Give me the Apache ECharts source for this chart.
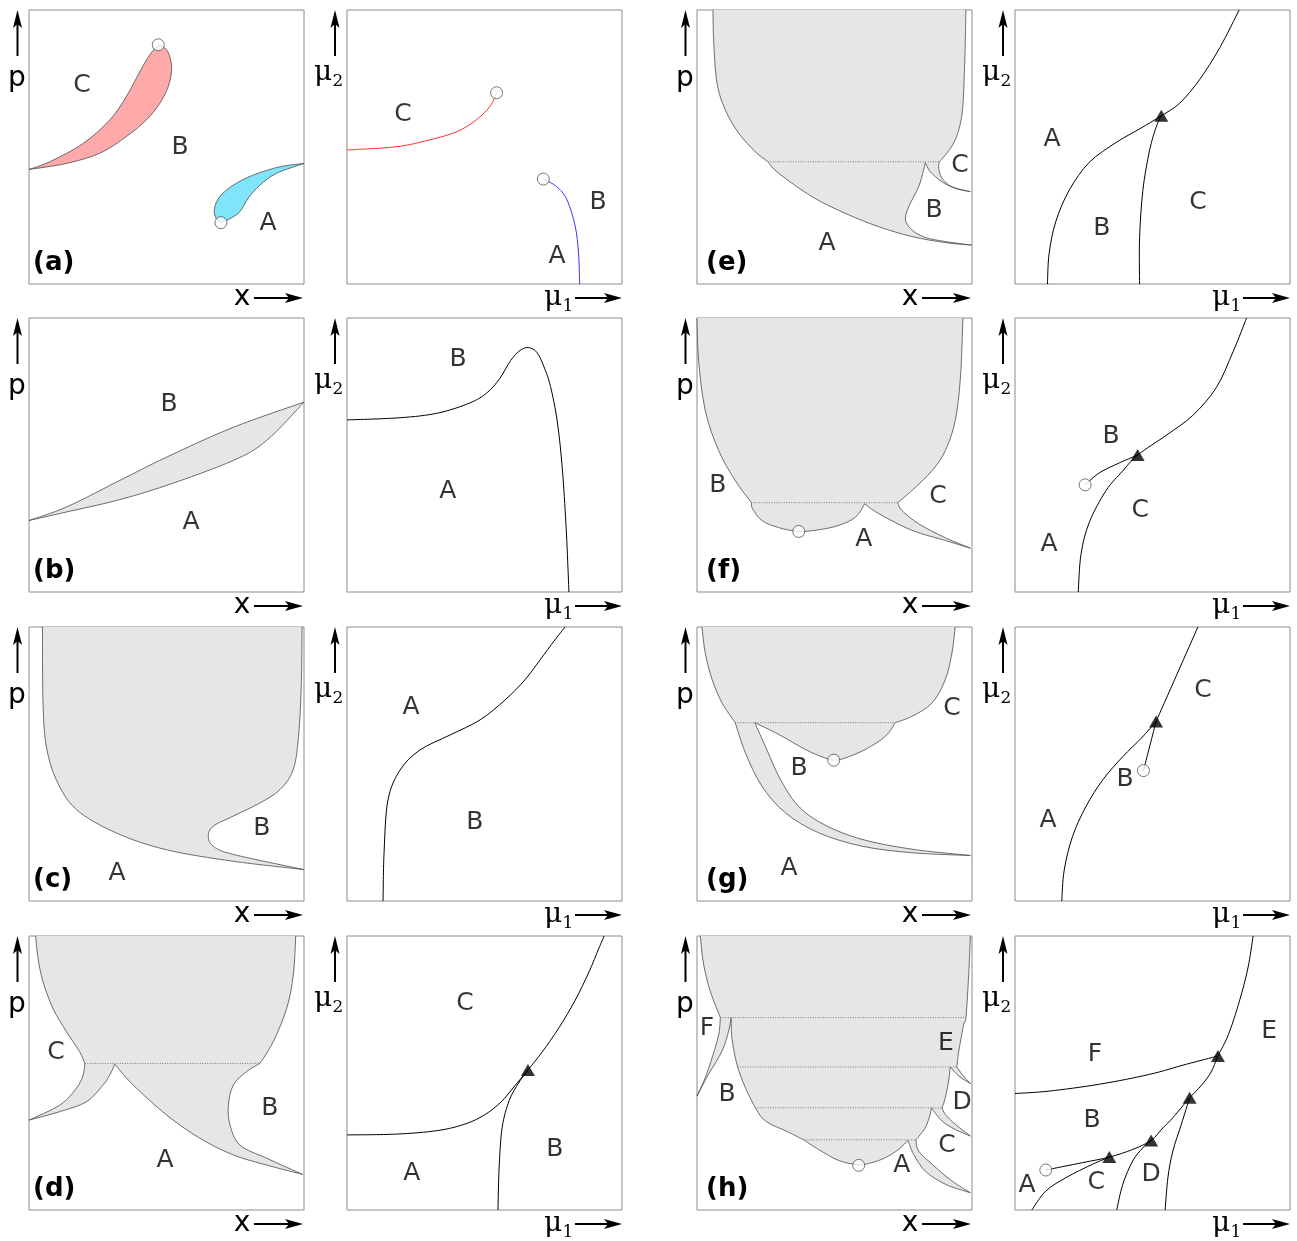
<!DOCTYPE html>
<html>
<head>
<meta charset="utf-8">
<script src="https://cdn.jsdelivr.net/npm/echarts@6/dist/echarts.min.js"></script>
<style>
html, body { margin: 0; padding: 0; background: #fff; }
#chart { width: 1297px; height: 1241px; }
</style>
</head>
<body>
<div id="chart"></div>
<script>
// every panel uses its own 0..100 x 0..100 frame, origin bottom left
// boundaries are lists of segments, a corner sits between two segments

// (a)
var aLeftRed = [
    [[0, 41.8], [7.5, 44.6], [19.7, 51.3], [29.4, 59.9], [35.4, 68.4], [40.3, 77.5], [43.9, 83.6], [47, 87.3]],
    [[47, 87.3], [50, 85.5], [51.5, 81.8], [51.8, 77.5], [50.6, 72], [47.6, 66], [42.7, 59.9], [35.4, 53.8], [25.7, 47.7], [13.6, 44], [0, 41.8]]
];
var aLeftBlue = [
    [[100, 44], [91.3, 42.8], [81.6, 39.8], [74.3, 36.1], [69.4, 31.9], [67.4, 27.5], [68, 24], [69.8, 22.4]],
    [[69.8, 22.4], [73, 23.8], [76.7, 26.4], [79.7, 31.3], [84, 36.1], [90, 40.4], [100, 44]]
];
var aLeftCircles = [[47, 87.3], [69.8, 22.4]];
var aLeftLabels = [['C', 19.3, 72.3], ['B', 54.9, 50], ['A', 86.9, 21.9]];

var aRightRed = [[[0, 48.9], [18, 50.1], [30, 52.6], [40, 55.6], [47, 59.9], [52, 64.8], [54.4, 69.8]]];
var aRightBlue = [[[71.4, 38.3], [76.3, 35.5], [80, 30.7], [83, 21], [84.2, 11.2], [84.6, 0]]];
var aRightCircles = [[54.4, 69.8], [71.4, 38.3]];
var aRightLabels = [['C', 20.4, 61.7], ['B', 91.3, 29.9], ['A', 76.4, 10.2]];

// (b)
var bLeftLens = [
    [[0, 26.1], [13.6, 31], [31.8, 40.1], [50, 49.2], [74.3, 60.1], [100, 69.3]],
    [[100, 69.3], [86.4, 55.3], [74.3, 48], [50, 38.9], [31.8, 33.4], [13.6, 29.2], [0, 26.1]]
];
var bLeftLabels = [['B', 50.9, 68.6], ['A', 58.9, 25.5]];
var bRightCurve = [[[0, 62.8], [19.3, 63.6], [33, 65.3], [44.7, 69], [51, 72.8], [55.6, 78], [59.5, 84.5], [63, 88.2], [66, 89.2], [69, 87.5], [71.5, 82.5], [74, 75], [76.5, 62], [78.3, 45], [79.6, 25], [80.3, 10], [80.7, 0]]];
var bRightLabels = [['B', 40.4, 84.7], ['A', 36.7, 36.5]];

// (c)
var cLeftGray = [
    [[4.9, 100], [5.1, 72.3], [6.3, 56.5], [9.9, 44.3], [17.2, 33.4], [31.8, 24.8], [50, 18.7], [74.3, 14.5], [99.8, 11.5]],
    [[99.8, 11.5], [74.3, 17], [67, 20], [65.2, 23.7], [67, 27.3], [74.3, 31], [84, 35.8], [91.3, 40.7], [96.1, 48], [98, 60.1], [99, 78.4], [99.3, 100]]
];
var cLeftLabels = [['B', 84.7, 26.6], ['A', 32, 9.9]];
var cRightCurve = [[[13.1, 0], [13.5, 18.2], [14.9, 36.9], [19.3, 47.8], [26.5, 55.1], [37.5, 60.6], [48.4, 66.1], [57.5, 73.4], [64.7, 80.7], [70.2, 88], [75.6, 95.3], [79.3, 100]]];
var cRightLabels = [['A', 23.3, 70.8], ['B', 46.5, 28.5]];

// (d)
var dLeftGray = [
    [[2.4, 100], [3.3, 91.8], [5.1, 83.3], [8.7, 73.6], [13.6, 65.1], [18.4, 57.8], [20.3, 53.5]],
    [[20.3, 53.5], [19.7, 49.3], [17.2, 44.4], [11.2, 38.3], [0, 32.8]],
    [[0, 32.8], [11.2, 35.9], [20.9, 39.5], [26.9, 45.6], [29.4, 49.3], [31.2, 53.2]],
    [[31.2, 53.2], [37.9, 45.6], [50, 34.7], [62.1, 26.2], [74.3, 20.1], [86.4, 16.4], [99.5, 13]],
    [[99.5, 13], [86.4, 18.9], [76.7, 23.7], [73.1, 31], [72.5, 38.3], [74.3, 45.6], [79.1, 50.5], [84, 53.5]],
    [[84, 53.5], [88.8, 61.4], [93.7, 73.6], [96.1, 85.8], [97, 100]]
];
var dLeftDotted = [[[20.3, 53.5], [84, 53.5]]];
var dLeftLabels = [['C', 9.8, 57.3], ['B', 87.6, 36.9], ['A', 49.5, 18.2]];
var dRightUpper = [[[0, 27.4], [18, 27.7], [33, 29], [43, 31.4], [50, 34.7], [56, 39.4], [61, 45.3], [65.8, 51.1], [71, 57.7], [77, 66.4], [83, 76.6], [88, 86.9], [91.5, 95.3], [93.5, 100]]];
var dRightLower = [[[54.9, 0], [55.3, 15], [56.4, 30], [59, 40], [62.5, 46.5], [65.8, 51.1]]];
var dRightTriangles = [[65.8, 51.1]];
var dRightLabels = [['C', 42.9, 75.5], ['B', 75.6, 21.9], ['A', 23.6, 13.5]];

// (e)
var eLeftGray = [
    [[5.8, 100], [6.1, 87.8], [7.3, 73.2], [10.3, 63.5], [15.2, 55], [21.2, 48.3], [25.8, 44.6]],
    [[25.8, 44.6], [29.7, 40.4], [41.8, 31.9], [53.9, 25.8], [66.1, 20.9], [78.2, 17.3], [90.3, 15.1], [99.8, 14.2]],
    [[99.8, 14.2], [90.3, 15.5], [83, 17], [78.2, 19.7], [75.8, 23.4], [77, 28.2], [80.6, 35.5], [82.4, 41.6], [83, 44.3]],
    [[83, 44.3], [84.8, 41], [89.1, 37.3], [93.9, 34.9], [99.4, 33.7]],
    [[99.4, 33.7], [92.7, 35.5], [89.1, 38.6], [87.9, 42.2], [88.1, 44.6]],
    [[88.1, 44.6], [90.3, 47.1], [93.9, 52.6], [96.4, 62.3], [97.3, 79.3], [97.8, 100]]
];
var eLeftDotted = [[[25.8, 44.6], [88.1, 44.6]]];
var eLeftLabels = [['C', 95.6, 43.4], ['B', 86.2, 27], ['A', 47.3, 14.6]];
var eRightAB = [[[11.8, 0], [12.4, 11.1], [14.8, 22.7], [19.7, 34.2], [27, 44.4], [36.7, 51.6], [45.3, 56.6], [53.2, 61.4], [59.9, 66], [67.2, 74.7], [74.5, 86.3], [81.5, 100]]];
var eRightBC = [[[45.3, 0], [45.3, 16.9], [46.5, 34.2], [48.9, 48.6], [51.3, 57.2], [53.2, 61.4]]];
var eRightTriangles = [[53.2, 61.4]];
var eRightLabels = [['A', 13.5, 52.6], ['B', 31.6, 20.4], ['C', 66.5, 29.9]];

// (f)
var fLeftGray = [
    [[0, 100], [0.6, 84.4], [3, 66.2], [7.9, 51.6], [13.9, 40.7], [19.8, 32.6]],
    [[19.8, 32.6], [20.2, 30.4], [23.6, 26.1], [29.7, 23.5], [37, 22.1], [44.2, 22.7], [51.5, 24.3], [57.6, 27.3], [61, 32.2]],
    [[61, 32.2], [66.1, 28.6], [78.2, 22.5], [90.3, 18.8], [99.4, 16]],
    [[99.4, 16], [90.3, 19.8], [80.6, 24.9], [74.5, 29.8], [73, 32.6]],
    [[73, 32.6], [78.2, 37.1], [85.5, 44.3], [90.3, 51.6], [93.9, 62.6], [95.8, 78.4], [96.7, 100]]
];
var fLeftDotted = [[[19.8, 32.6], [73, 32.6]]];
var fLeftCircles = [[37, 22.1]];
var fLeftLabels = [['B', 7.6, 38.7], ['C', 87.6, 35], ['A', 60.7, 19]];
var fRightMain = [[[23, 0], [24, 13.8], [27, 25.4], [33.1, 37], [39.2, 44.2], [44.6, 50], [55, 57.2], [64.7, 64.5], [73.2, 74.6], [79.3, 87.7], [84.2, 100]]];
var fRightBranch = [[[25.5, 39.1], [30.7, 43.5], [37.9, 47.1], [44.6, 50]]];
var fRightCircles = [[25.5, 39.1]];
var fRightTriangles = [[44.6, 50]];
var fRightLabels = [['B', 34.9, 56.9], ['C', 45.5, 29.9], ['A', 12.4, 17.5]];

// (g)
var gLeftGray = [
    [[1.8, 100], [3, 90.5], [5.5, 80.8], [9.1, 72.3], [13.9, 65.1]],
    [[13.9, 65.1], [17.6, 54.1], [23.6, 41.9], [32.1, 32.2], [44.2, 24.9], [60, 20], [78.2, 17.6], [99.4, 16.6]],
    [[99.4, 16.6], [78.2, 18.9], [60, 22.5], [46, 28], [36.5, 35], [30, 45], [25.5, 55], [21, 65.1]],
    [[21, 65.1], [29.7, 60.8], [39.4, 55.3], [45.5, 52.6], [49.7, 51.4], [53.9, 52.2], [61.2, 55.3], [68.5, 60.1], [72.1, 65.1]],
    [[72.1, 65.1], [78.2, 67.4], [85.5, 72.3], [90.3, 80.8], [92.7, 90.5], [93.9, 100]]
];
var gLeftDotted = [[[13.9, 65.1], [72.1, 65.1]]];
var gLeftCircles = [[49.7, 51.4]];
var gLeftLabels = [['C', 92.7, 70.4], ['B', 37.1, 48.2], ['A', 33.5, 11.7]];
var gRightMain = [
    [[17, 0], [17.9, 11.3], [20.9, 23.5], [25.8, 34.5], [31.9, 44.2], [39.2, 52.7], [45.9, 59.4], [51.3, 65.5]],
    [[51.3, 65.5], [66.5, 100]]
];
var gRightBranch = [[[46.7, 47.6], [51.3, 65.5]]];
var gRightCircles = [[46.7, 47.6]];
var gRightTriangles = [[51.3, 65.5]];
var gRightLabels = [['C', 68.4, 77], ['B', 40, 44.5], ['A', 12, 29.2]];

// (h)
var hLeftGray = [
    [[1.2, 100], [2.4, 89.7], [4.8, 79.9], [8.5, 70.2]],
    [[8.5, 70.2], [7.9, 64.1], [5.5, 55.6], [3, 48.3], [0, 41.6]],
    [[0, 41.6], [4.2, 49.5], [9.1, 58], [11.5, 65.3], [12.4, 70.2]],
    [[12.4, 70.2], [12.7, 62.9], [14.5, 53.2], [17.6, 44.6], [21.2, 37.3]],
    [[21.2, 37.3], [23.6, 33.7], [27, 31.2], [32, 29], [38.8, 25.6]],
    [[38.8, 25.6], [44.2, 22.1], [51.5, 18.1], [58.8, 16.5], [63.6, 17.3], [68.5, 19.1], [73.3, 22.1], [76.7, 25.4]],
    [[76.7, 25.4], [78.8, 20.3], [83, 14.2], [90.3, 9.4], [99.4, 6.3]],
    [[99.4, 6.3], [92.7, 10.6], [85.5, 16.7], [80.6, 21.5], [79.6, 25.6]],
    [[79.6, 25.6], [83, 30], [84.8, 34.9], [85.2, 37.3]],
    [[85.2, 37.3], [89.1, 32.5], [93.9, 29.4], [99.4, 27]],
    [[99.4, 27], [93.9, 31.3], [90.3, 34.9], [89.1, 37.3]],
    [[89.1, 37.3], [90.3, 41], [91.5, 47.1], [92.1, 52.2]],
    [[92.1, 52.2], [95.2, 48.9], [99.4, 46.1]],
    [[99.4, 46.1], [96.4, 49.5], [94.5, 52.2]],
    [[94.5, 52.2], [95.2, 58], [97, 67.8], [97.8, 70.2], [98.8, 86], [99.4, 100]]
];
var hLeftDotted = [
    [[8.5, 70.2], [97.8, 70.2]],
    [[14.8, 52.2], [94.5, 52.2]],
    [[21.2, 37.3], [89.1, 37.3]],
    [[38.8, 25.6], [79.6, 25.6]]
];
var hLeftCircles = [[58.8, 16.3]];
var hLeftLabels = [['F', 3.6, 66.4], ['E', 90.5, 60.6], ['B', 10.9, 42.3], ['D', 96.4, 39.4], ['C', 90.9, 23.4], ['A', 74.5, 16.1]];
var hRightF = [[[0, 42.5], [12.4, 43.4], [30.7, 45.9], [48.9, 49.5], [62.3, 53.2], [73.8, 56.2]]];
var hRightE = [[[63.5, 41], [67.8, 45.5], [71.3, 50.3], [73.8, 56.2], [77.6, 64], [81.6, 76.2], [84.7, 88.3], [86.6, 100]]];
var hRightChain = [[[11.2, 14.6], [24.6, 17.3], [34.3, 19.3], [42.8, 22.1], [49.5, 25.4], [53.8, 30], [57.4, 33.7], [63.5, 41]]];
var hRightAC = [[[6.1, 0], [11.2, 6.9], [18.5, 11.8], [28.2, 16.7], [34.3, 19.3]]];
var hRightCD = [[[37, 0], [39.2, 9.4], [42.8, 17.9], [46.5, 22.7], [49.5, 25.4]]];
var hRightDE = [[[54.6, 0], [55.6, 11.8], [57.4, 21.5], [60.5, 31.3], [63.5, 41]]];
var hRightCircles = [[11.2, 14.6]];
var hRightTriangles = [[34.3, 19.3], [49.5, 25.4], [63.5, 41], [73.8, 56.2]];
var hRightLabels = [['F', 29.1, 56.6], ['E', 92.4, 65.3], ['B', 28, 32.5], ['A', 4.4, 9.1], ['C', 29.5, 10.2], ['D', 49.5, 12.8]];

var GRAY = '#e6e6e6';
var panels = [
    {tag: '(a)', col: 0, row: 0, regions: [{segs: aLeftRed, fill: '#ffaaaa'}, {segs: aLeftBlue, fill: '#80e5fb'}], circles: aLeftCircles, labels: aLeftLabels},
    {col: 1, row: 0, curves: [{segs: aRightRed, color: '#ff3333'}, {segs: aRightBlue, color: '#3333ff'}], circles: aRightCircles, labels: aRightLabels},
    {tag: '(b)', col: 0, row: 1, regions: [{segs: bLeftLens, fill: GRAY}], labels: bLeftLabels},
    {col: 1, row: 1, curves: [{segs: bRightCurve}], labels: bRightLabels},
    {tag: '(c)', col: 0, row: 2, regions: [{segs: cLeftGray, fill: GRAY}], labels: cLeftLabels},
    {col: 1, row: 2, curves: [{segs: cRightCurve}], labels: cRightLabels},
    {tag: '(d)', col: 0, row: 3, regions: [{segs: dLeftGray, fill: GRAY}], dotted: dLeftDotted, labels: dLeftLabels},
    {col: 1, row: 3, curves: [{segs: dRightUpper}, {segs: dRightLower}], triangles: dRightTriangles, labels: dRightLabels},
    {tag: '(e)', col: 2, row: 0, regions: [{segs: eLeftGray, fill: GRAY}], dotted: eLeftDotted, labels: eLeftLabels},
    {col: 3, row: 0, curves: [{segs: eRightAB}, {segs: eRightBC}], triangles: eRightTriangles, labels: eRightLabels},
    {tag: '(f)', col: 2, row: 1, regions: [{segs: fLeftGray, fill: GRAY}], dotted: fLeftDotted, circles: fLeftCircles, labels: fLeftLabels},
    {col: 3, row: 1, curves: [{segs: fRightMain}, {segs: fRightBranch}], circles: fRightCircles, triangles: fRightTriangles, labels: fRightLabels},
    {tag: '(g)', col: 2, row: 2, regions: [{segs: gLeftGray, fill: GRAY}], dotted: gLeftDotted, circles: gLeftCircles, labels: gLeftLabels},
    {col: 3, row: 2, curves: [{segs: gRightMain}, {segs: gRightBranch}], circles: gRightCircles, triangles: gRightTriangles, labels: gRightLabels},
    {tag: '(h)', col: 2, row: 3, regions: [{segs: hLeftGray, fill: GRAY}], dotted: hLeftDotted, circles: hLeftCircles, labels: hLeftLabels},
    {col: 3, row: 3, curves: [{segs: hRightF}, {segs: hRightE}, {segs: hRightChain}, {segs: hRightAC}, {segs: hRightCD}, {segs: hRightDE}], circles: hRightCircles, triangles: hRightTriangles, labels: hRightLabels}
];

var PW = 275, PH = 274;
var colLeft = [29, 347, 697, 1015];
var rowTop = [10, 318, 627, 936];

// catmull-rom through the points of each segment, in pixels
function smoothPath(api, segs) {
    var d = '';
    segs.forEach(function (seg, k) {
        var p = seg.map(function (q) { return api.coord(q); });
        if (k === 0) d += 'M' + p[0][0] + ' ' + p[0][1];
        for (var i = 0; i < p.length - 1; i++) {
            var p0 = p[i > 0 ? i - 1 : i], p1 = p[i], p2 = p[i + 1];
            var p3 = p[i + 2 < p.length ? i + 2 : i + 1];
            var c1x = p1[0] + (p2[0] - p0[0]) / 6, c1y = p1[1] + (p2[1] - p0[1]) / 6;
            var c2x = p2[0] - (p3[0] - p1[0]) / 6, c2y = p2[1] - (p3[1] - p1[1]) / 6;
            d += 'C' + c1x + ' ' + c1y + ' ' + c2x + ' ' + c2y + ' ' + p2[0] + ' ' + p2[1];
        }
    });
    return d;
}

var grid = [], xAxis = [], yAxis = [], series = [], graphic = [];

function arrowUp(x, y0, y1) {
    graphic.push({type: 'line', shape: {x1: x, y1: y1, x2: x, y2: y0 + 12}, style: {stroke: '#000', lineWidth: 2}});
    graphic.push({type: 'polygon', shape: {points: [[x, y0], [x - 4.5, y0 + 18], [x, y0 + 14], [x + 4.5, y0 + 18]]}, style: {fill: '#000'}});
}
function arrowRight(x0, x1, y) {
    graphic.push({type: 'line', shape: {x1: x0, y1: y, x2: x1 - 12, y2: y}, style: {stroke: '#000', lineWidth: 2}});
    graphic.push({type: 'polygon', shape: {points: [[x1, y], [x1 - 18, y - 5], [x1 - 14, y], [x1 - 18, y + 5]]}, style: {fill: '#000'}});
}
function txt(x, y, s, font, align) {
    graphic.push({type: 'text', x: x, y: y, style: {text: s, font: font, fill: '#000', align: align || 'center', verticalAlign: 'middle'}});
}

panels.forEach(function (p, i) {
    var left = colLeft[p.col], top = rowTop[p.row];
    var right = left + PW, bottom = top + PH;
    grid.push({left: left, top: top, width: PW, height: PH, show: true, borderColor: '#8c8c8c', borderWidth: 1});
    xAxis.push({type: 'value', gridIndex: i, min: 0, max: 100, show: false});
    yAxis.push({type: 'value', gridIndex: i, min: 0, max: 100, show: false});

    (p.regions || []).forEach(function (r) {
        series.push({
            type: 'custom', xAxisIndex: i, yAxisIndex: i, silent: true, z: 2, data: [[0, 0]],
            renderItem: function (params, api) {
                var d = smoothPath(api, r.segs);
                return {type: 'group', children: [
                    {type: 'path', shape: {pathData: d + 'Z'}, style: {fill: r.fill, stroke: 'none'}},
                    {type: 'path', shape: {pathData: d}, style: {fill: 'none', stroke: '#4a4a4a', lineWidth: 0.8}}
                ]};
            }
        });
    });
    (p.dotted || []).forEach(function (seg) {
        series.push({
            type: 'custom', xAxisIndex: i, yAxisIndex: i, silent: true, z: 3, data: [[0, 0]],
            renderItem: function (params, api) {
                var a = api.coord(seg[0]), b = api.coord(seg[1]);
                return {type: 'line', shape: {x1: a[0], y1: a[1], x2: b[0], y2: b[1]}, style: {stroke: '#777', lineWidth: 1, lineDash: [1, 1.5]}};
            }
        });
    });
    (p.curves || []).forEach(function (c) {
        series.push({
            type: 'custom', xAxisIndex: i, yAxisIndex: i, silent: true, z: 3, data: [[0, 0]],
            renderItem: function (params, api) {
                return {type: 'path', shape: {pathData: smoothPath(api, c.segs)}, style: {fill: 'none', stroke: c.color || '#000', lineWidth: 1}};
            }
        });
    });
    if (p.circles) {
        series.push({type: 'scatter', xAxisIndex: i, yAxisIndex: i, silent: true, z: 5, symbol: 'circle', symbolSize: 12,
            itemStyle: {color: '#fff', borderColor: '#555', borderWidth: 1}, data: p.circles});
    }
    if (p.triangles) {
        series.push({type: 'scatter', xAxisIndex: i, yAxisIndex: i, silent: true, z: 5, symbol: 'triangle', symbolSize: [14, 12],
            itemStyle: {color: '#000'}, data: p.triangles});
    }
    series.push({
        type: 'scatter', xAxisIndex: i, yAxisIndex: i, silent: true, z: 6, symbolSize: 1,
        itemStyle: {color: 'rgba(0,0,0,0)'},
        label: {show: true, position: 'inside', formatter: '{b}', color: '#000', fontSize: 25, fontFamily: 'DejaVu Sans'},
        data: p.labels.map(function (l) { return {name: l[0], value: [l[1], l[2]]}; })
    });

    // axis arrows and names
    if (p.col % 2 === 0) {
        arrowUp(left - 11.5, top, top + 46);
        txt(left - 12, top + 69, 'p', '28px DejaVu Sans');
        txt(right - 62, bottom + 14, 'x', '28px DejaVu Sans');
        arrowRight(right - 50, right - 1, bottom + 14);
        txt(left + (p.col === 0 ? 4 : 9), bottom - 21, p.tag, 'bold 26px DejaVu Sans', 'left');
    } else {
        arrowUp(left - 12, top, top + 46);
        txt(left - 24, top + 63, 'μ', '28px DejaVu Serif');
        txt(left - 9, top + 72, '2', '17px DejaVu Serif');
        arrowRight(right - 47, right, bottom + 14);
        txt(right - 69, bottom + 14, 'μ', '28px DejaVu Serif');
        txt(right - 54, bottom + 23, '1', '17px DejaVu Serif');
    }
});

var chart = echarts.init(document.getElementById('chart'));
chart.setOption({
    animation: false,
    backgroundColor: '#fff',
    grid: grid,
    xAxis: xAxis,
    yAxis: yAxis,
    graphic: graphic,
    series: series
});
</script>
</body>
</html>
